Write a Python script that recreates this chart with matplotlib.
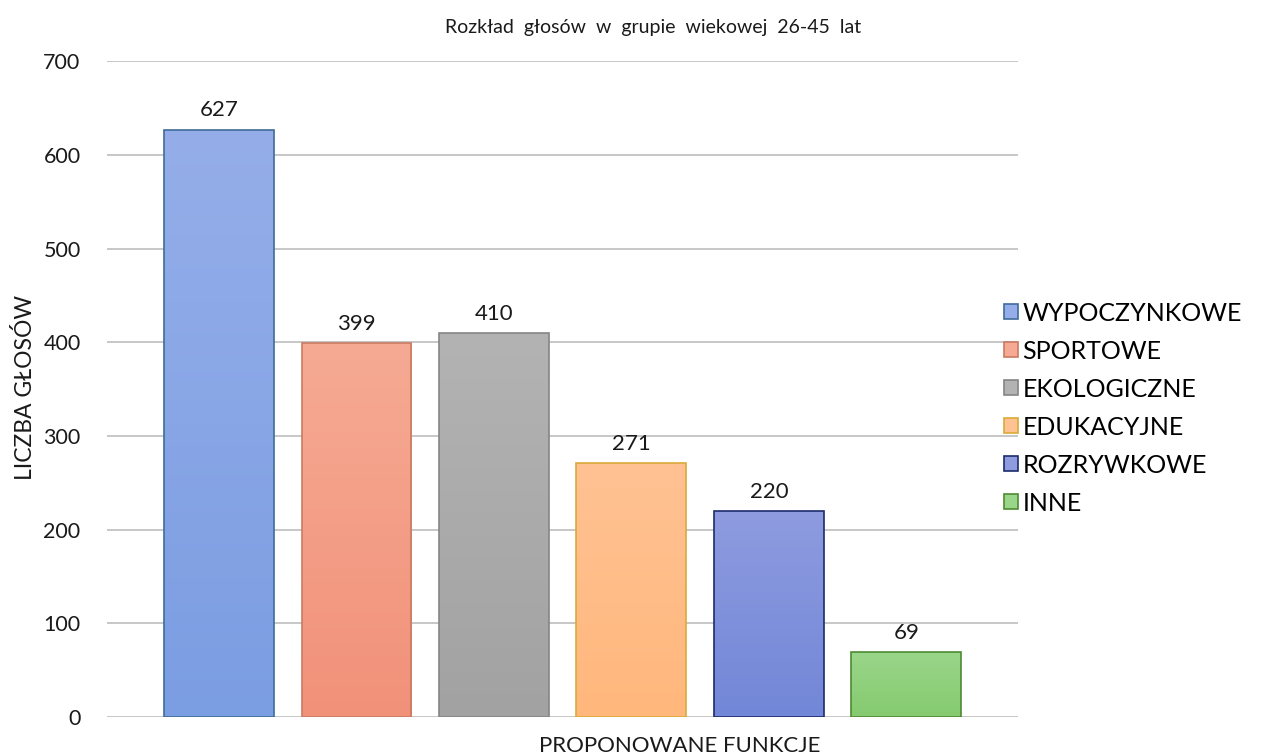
import numpy as np
import matplotlib.pyplot as plt
from matplotlib.patches import Patch
from matplotlib.colors import LinearSegmentedColormap

categories = ['WYPOCZYNKOWE', 'SPORTOWE', 'EKOLOGICZNE', 'EDUKACYJNE', 'ROZRYWKOWE', 'INNE']
votes = [627, 399, 410, 271, 220, 69]
top_colors = ['#95AEE9', '#F6AA93', '#B3B3B3', '#FFC293', '#8E9BDF', '#9AD68A']
bottom_colors = ['#7B9DE2', '#F2917A', '#A2A2A2', '#FFB77C', '#7287D8', '#85CA6F']
edge_colors = ['#3F6C9A', '#C97B62', '#858585', '#D9AA3A', '#1E2B6B', '#4F8A33']

plt.rcParams['font.family'] = ['Lato', 'DejaVu Sans']

fig = plt.figure(figsize=(12.69, 7.56), dpi=100)
ax = fig.add_axes([0.0843, 0.0516, 0.7177, 0.8674])

x = np.arange(len(categories))
bars = ax.bar(x, votes, width=0.8, color='none', edgecolor=edge_colors, linewidth=1.2, zorder=3)

# gradient fill, lighter at the top like the original
grad = np.linspace(0, 1, 256).reshape(-1, 1)
for b, c_top, c_bot in zip(bars, top_colors, bottom_colors):
    cmap = LinearSegmentedColormap.from_list('g', [c_bot, c_top])
    x0, y0 = b.get_x(), b.get_y()
    im = ax.imshow(grad, cmap=cmap, aspect='auto', origin='lower',
                   extent=[x0, x0 + b.get_width(), y0, y0 + b.get_height()], zorder=2)
    im.set_clip_path(b)

for xi, v in zip(x, votes):
    ax.text(xi, v + 10, str(v), ha='center', va='bottom', fontsize=16, color='#1a1a1a')

ax.set_xlim(-0.815, 5.81)
ax.set_ylim(0, 700)
ax.set_yticks(range(0, 701, 100))
ax.set_xticks([])
ax.tick_params(axis='y', length=0, labelsize=15.5, pad=19, colors='#1a1a1a')
ax.yaxis.grid(True, color='#BDBDBD', linewidth=1.2, zorder=0)
ax.set_axisbelow(True)
for s in ax.spines.values():
    s.set_visible(False)

fig.text(0.02, 0.487, 'LICZBA GŁOSÓW', rotation=90, ha='center', va='center', fontsize=16.5, color='#1a1a1a')
fig.text(0.536, 0.0, 'PROPONOWANE FUNKCJE', ha='center', va='bottom', fontsize=16, color='#1a1a1a')
fig.text(0.515, 0.964, 'Rozkład  głosów  w  grupie  wiekowej  26-45  lat', ha='center', va='center',
         fontsize=14, color='#1a1a1a')

handles = [Patch(facecolor=t, edgecolor=e, linewidth=1.2) for t, e in zip(top_colors, edge_colors)]
fig.legend(handles, categories, loc='upper left', bbox_to_anchor=(0.791, 0.601), frameon=False,
           fontsize=18, handlelength=0.55, handleheight=0.55, handletextpad=0.2,
           labelspacing=0.6, borderaxespad=0, borderpad=0)

fig.savefig('out.png', dpi=100)
